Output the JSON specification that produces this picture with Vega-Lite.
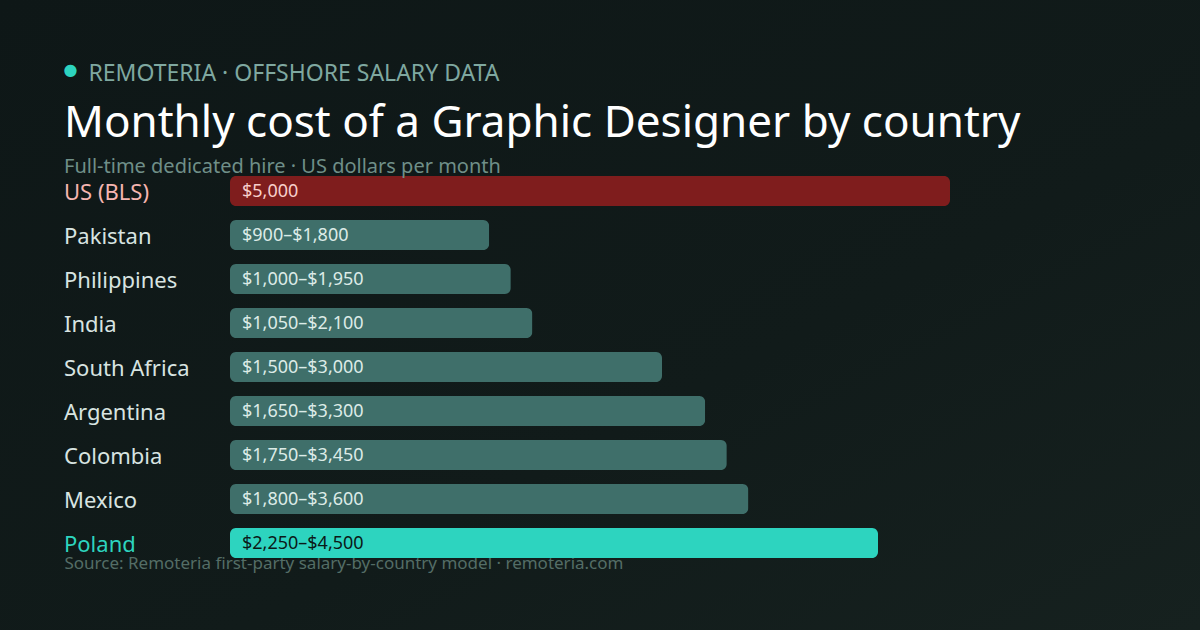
{
  "$schema": "https://vega.github.io/schema/vega-lite/v6.json",
  "width": 1200,
  "height": 630,
  "padding": 0,
  "autosize": "none",
  "background": "#0f1818",
  "view": {
    "stroke": null,
    "fill": {
      "gradient": "linear",
      "x1": 0, "y1": 0, "x2": 1, "y2": 1,
      "stops": [
        {"offset": 0, "color": "#0e1717"},
        {"offset": 0.6, "color": "#111b1a"},
        {"offset": 1, "color": "#16211f"}
      ]
    }
  },
  "title": {
    "text": "Monthly cost of a Graphic Designer by country",
    "subtitle": "Full-time dedicated hire · US dollars per month",
    "orient": "top",
    "anchor": "start",
    "frame": "group",
    "dx": 64,
    "dy": 181,
    "font": "Noto Sans",
    "fontSize": 44,
    "fontWeight": 400,
    "color": "#ffffff",
    "subtitleFont": "Noto Sans",
    "subtitleFontSize": 20,
    "subtitleColor": "#6f8f88",
    "subtitlePadding": 11
  },
  "data": {
    "values": [
      {"country": "US (BLS)", "max": 5000, "label": "$5,000", "group": "us"},
      {"country": "Pakistan", "max": 1800, "label": "$900–$1,800", "group": "other"},
      {"country": "Philippines", "max": 1950, "label": "$1,000–$1,950", "group": "other"},
      {"country": "India", "max": 2100, "label": "$1,050–$2,100", "group": "other"},
      {"country": "South Africa", "max": 3000, "label": "$1,500–$3,000", "group": "other"},
      {"country": "Argentina", "max": 3300, "label": "$1,650–$3,300", "group": "other"},
      {"country": "Colombia", "max": 3450, "label": "$1,750–$3,450", "group": "other"},
      {"country": "Mexico", "max": 3600, "label": "$1,800–$3,600", "group": "other"},
      {"country": "Poland", "max": 4500, "label": "$2,250–$4,500", "group": "poland"}
    ]
  },
  "encoding": {
    "y": {
      "field": "country",
      "type": "nominal",
      "sort": null,
      "scale": {"range": [176, 558], "paddingInner": 0.318, "paddingOuter": 0},
      "axis": {
        "orient": "left",
        "domain": false,
        "ticks": false,
        "labelAlign": "left",
        "labelPadding": -63.5,
        "labelOffset": 2,
        "labelFont": "Noto Sans",
        "labelFontSize": 22,
        "labelColor": {"expr": "datum.value == 'US (BLS)' ? '#f5b5b0' : datum.value == 'Poland' ? '#2dd4bf' : '#d8e4e1'"},
        "title": "REMOTERIA · OFFSHORE SALARY DATA",
        "titleAngle": 0,
        "titleAlign": "left",
        "titleBaseline": "alphabetic",
        "titleX": 88,
        "titleY": 80,
        "titleFont": "Noto Sans",
        "titleFontSize": 23,
        "titleFontWeight": 400,
        "titleColor": "#7fa8a0"
      }
    }
  },
  "layer": [
    {
      "mark": {"type": "bar", "cornerRadius": 6},
      "encoding": {
        "x": {
          "field": "max",
          "type": "quantitative",
          "scale": {"domain": [0, 5000], "range": [230, 950]},
          "axis": {
            "grid": false,
            "domain": false,
            "ticks": false,
            "labels": false,
            "title": "Source: Remoteria first-party salary-by-country model · remoteria.com",
            "titleAnchor": "start",
            "titleAlign": "left",
            "titleBaseline": "alphabetic",
            "titleX": 64,
            "titleY": -62,
            "titleFont": "Noto Sans",
            "titleFontSize": 17,
            "titleFontWeight": 400,
            "titleColor": "#546d66"
          }
        },
        "color": {
          "field": "group",
          "type": "nominal",
          "scale": {"domain": ["us", "other", "poland"], "range": ["#7f1d1d", "#3f6f6a", "#2dd4bf"]},
          "legend": null
        }
      }
    },
    {
      "mark": {"type": "text", "align": "left", "dx": 12, "dy": 1, "font": "Noto Sans", "fontSize": 18},
      "encoding": {
        "x": {
          "datum": 0,
          "axis": {
            "orient": "top",
            "grid": false,
            "domain": false,
            "ticks": false,
            "labels": false,
            "title": "●",
            "titleAnchor": "start",
            "titleAlign": "center",
            "titleBaseline": "alphabetic",
            "titleX": 70,
            "titleY": 74.5,
            "titleFont": "DejaVu Sans",
            "titleFontSize": 16,
            "titleFontWeight": 400,
            "titleColor": "#2dd4bf"
          }
        },
        "text": {"field": "label"},
        "color": {
          "condition": [
            {"test": "datum.group == 'poland'", "value": "#0b1a18"},
            {"test": "datum.group == 'us'", "value": "#f7cfcb"}
          ],
          "value": "#dcebe7"
        }
      }
    }
  ],
  "resolve": {"axis": {"x": "independent"}},
  "config": {"style": {"cell": {"stroke": null}}}
}
